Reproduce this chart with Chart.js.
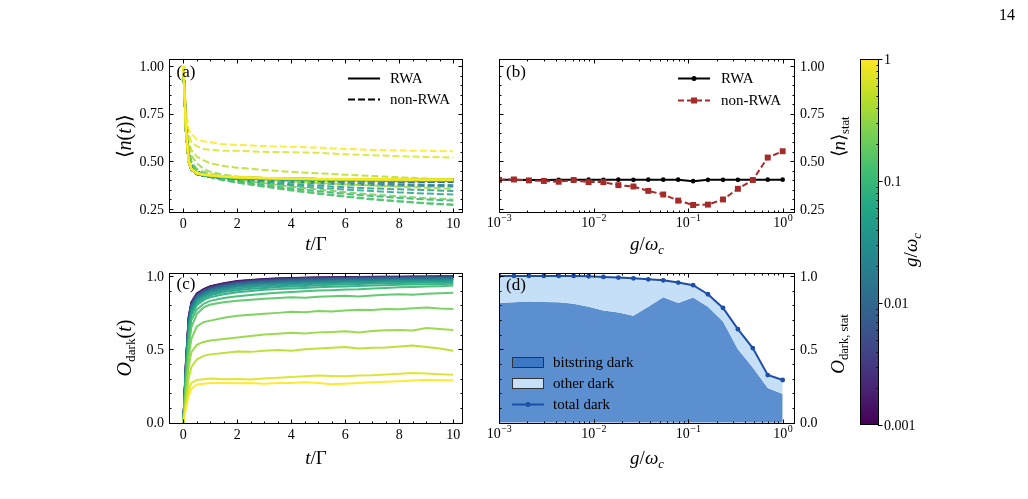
<!DOCTYPE html>
<html>
<head>
<meta charset="utf-8">
<script src="https://cdn.jsdelivr.net/npm/chart.js@4.4.0/dist/chart.umd.min.js"></script>
<style>
body{margin:0;background:#fff;width:1028px;height:499px;overflow:hidden;position:relative;font-family:"Liberation Serif","Times New Roman",serif;color:#000;}
canvas{position:absolute;left:0;top:0;}
.t{position:absolute;transform:translate(-50%,-50%);white-space:nowrap;line-height:1;}
.r{transform:translate(-50%,-50%) rotate(-90deg);}
.ax{font-size:19px;}
.big{font-size:20px;}
.pl{font-size:17px;}
.lg{position:absolute;font-size:15px;line-height:1;white-space:nowrap;transform:translateY(-50%);}
sub{font-size:0.66em;vertical-align:-0.32em;line-height:0;}
#ov{position:absolute;left:0;top:0;}
</style>
</head>
<body>
<canvas id="ca" width="1028" height="499"></canvas>
<canvas id="cb" width="1028" height="499"></canvas>
<canvas id="cc" width="1028" height="499"></canvas>
<canvas id="cd" width="1028" height="499"></canvas>
<canvas id="cbar" width="1028" height="499"></canvas>

<svg id="ov" width="1028" height="499">
  <line x1="348" y1="78.5" x2="380" y2="78.5" stroke="#000" stroke-width="2"/>
  <line x1="348" y1="99.5" x2="380" y2="99.5" stroke="#000" stroke-width="2" stroke-dasharray="7 3"/>
  <line x1="678" y1="78.5" x2="710" y2="78.5" stroke="#000" stroke-width="2"/>
  <circle cx="694" cy="78.5" r="2.5" fill="#000"/>
  <line x1="678" y1="100.5" x2="710" y2="100.5" stroke="#a52a2a" stroke-width="2" stroke-dasharray="6 3"/>
  <rect x="691" y="97.5" width="6" height="6" fill="#a52a2a"/>
  <rect x="512.5" y="357.5" width="31" height="10" fill="#3d78c5" stroke="#333"/>
  <rect x="512.5" y="378.5" width="31" height="10" fill="#c6e0f7" stroke="#333"/>
  <line x1="512" y1="404.5" x2="544" y2="404.5" stroke="#1e4ea5" stroke-width="2"/>
  <circle cx="528" cy="404.5" r="2.5" fill="#1e4ea5"/>
</svg>

<div class="lg" style="left:390px;top:78px">RWA</div>
<div class="lg" style="left:390px;top:99px">non-RWA</div>
<div class="lg" style="left:721px;top:78px">RWA</div>
<div class="lg" style="left:721px;top:100px">non-RWA</div>
<div class="lg" style="left:553px;top:362px">bitstring dark</div>
<div class="lg" style="left:553px;top:383px">other dark</div>
<div class="lg" style="left:553px;top:404px">total dark</div>

<div class="t pl" style="left:186px;top:71px">(a)</div>
<div class="t pl" style="left:516px;top:71px">(b)</div>
<div class="t pl" style="left:186px;top:283px">(c)</div>
<div class="t pl" style="left:516px;top:284px">(d)</div>

<div class="t big r" style="left:124px;top:136px">⟨<i>n</i>(<i>t</i>)⟩</div>
<div class="t ax" style="left:316px;top:243px"><i>t</i>/Γ</div>
<div class="t ax" style="left:647px;top:243px"><i>g</i>/<i>ω<sub>c</sub></i></div>
<div class="t ax r" style="left:838px;top:137px">⟨<i>n</i>⟩<sub>stat</sub></div>
<div class="t big r" style="left:124px;top:348px"><i>O</i><sub>dark</sub>(<i>t</i>)</div>
<div class="t ax" style="left:316px;top:457px"><i>t</i>/Γ</div>
<div class="t ax" style="left:647px;top:457px"><i>g</i>/<i>ω<sub>c</sub></i></div>
<div class="t ax r" style="left:837px;top:344px"><i>O</i><sub>dark, stat</sub></div>
<div class="t ax r" style="left:910px;top:250px"><i>g</i>/<i>ω<sub>c</sub></i></div>
<div class="t" style="left:1007px;top:15px;font-size:16px">14</div>

<script>
// coupling strengths g/omega_c (one curve / point each)
const gVals = [0.001,0.00144,0.00207,0.00298,0.00428,0.00616,0.00886,0.0127,0.0183,0.0264,
               0.0379,0.0546,0.0785,0.113,0.162,0.234,0.336,0.483,0.695,1.0];

// tick labels
const tTicks = [0,2,4,6,8,10];
const nTicks = [0.25,0.50,0.75,1.00];
const oTicks = [0.0,0.5,1.0];
const gTicks = [0.001,0.01,0.1,1];
const cbarLabels = ['0.001','0.01','0.1','1'];

// (a) <n(t)>, time grid and one row per g
const tA = [0,0.05,0.1,0.2,0.3,0.5,0.75,1,1.5,2,3,4,5,6,7,8,9,10];
const nRwa = [
  [1,0.84,0.66,0.50,0.458,0.434,0.426,0.421,0.415,0.412,0.409,0.407,0.406,0.405,0.404,0.404,0.403,0.403],
  [1,0.84,0.66,0.50,0.458,0.434,0.426,0.421,0.415,0.412,0.409,0.407,0.406,0.405,0.404,0.404,0.403,0.403],
  [1,0.84,0.66,0.50,0.458,0.434,0.426,0.421,0.415,0.412,0.409,0.407,0.406,0.405,0.404,0.403,0.403,0.402],
  [1,0.84,0.66,0.50,0.458,0.434,0.426,0.421,0.415,0.412,0.409,0.407,0.406,0.405,0.404,0.403,0.403,0.402],
  [1,0.84,0.66,0.50,0.458,0.434,0.426,0.421,0.415,0.412,0.409,0.407,0.406,0.405,0.404,0.404,0.403,0.403],
  [1,0.84,0.66,0.50,0.458,0.434,0.426,0.421,0.415,0.412,0.409,0.407,0.406,0.405,0.405,0.404,0.404,0.404],
  [1,0.84,0.66,0.50,0.458,0.434,0.426,0.421,0.415,0.412,0.409,0.407,0.406,0.405,0.405,0.404,0.404,0.404],
  [1,0.84,0.66,0.50,0.458,0.434,0.426,0.421,0.415,0.412,0.409,0.407,0.406,0.405,0.404,0.404,0.403,0.403],
  [1,0.84,0.66,0.50,0.458,0.434,0.426,0.421,0.415,0.412,0.409,0.407,0.406,0.405,0.405,0.404,0.404,0.404],
  [1,0.84,0.66,0.50,0.458,0.434,0.426,0.421,0.415,0.412,0.409,0.407,0.406,0.405,0.404,0.404,0.403,0.403],
  [1,0.84,0.66,0.50,0.458,0.434,0.426,0.421,0.415,0.412,0.409,0.407,0.406,0.405,0.405,0.404,0.404,0.404],
  [1,0.84,0.66,0.50,0.458,0.434,0.426,0.421,0.415,0.412,0.409,0.407,0.406,0.405,0.405,0.404,0.404,0.404],
  [1,0.84,0.66,0.50,0.458,0.434,0.426,0.421,0.415,0.412,0.409,0.407,0.406,0.405,0.405,0.404,0.404,0.404],
  [1,0.84,0.66,0.50,0.458,0.434,0.426,0.421,0.415,0.411,0.407,0.404,0.402,0.400,0.399,0.398,0.397,0.397],
  [1,0.84,0.66,0.50,0.460,0.437,0.430,0.426,0.420,0.416,0.412,0.409,0.407,0.406,0.405,0.404,0.404,0.403],
  [1,0.84,0.66,0.50,0.460,0.437,0.430,0.426,0.420,0.416,0.412,0.409,0.407,0.406,0.405,0.404,0.404,0.403],
  [1,0.84,0.66,0.50,0.460,0.437,0.430,0.426,0.420,0.416,0.412,0.409,0.407,0.406,0.405,0.404,0.404,0.403],
  [1,0.84,0.66,0.50,0.460,0.437,0.430,0.426,0.420,0.416,0.412,0.409,0.407,0.406,0.405,0.404,0.404,0.403],
  [1,0.84,0.66,0.50,0.460,0.437,0.430,0.426,0.420,0.416,0.412,0.409,0.407,0.406,0.405,0.405,0.404,0.404],
  [1,0.84,0.66,0.50,0.462,0.438,0.431,0.427,0.421,0.417,0.413,0.410,0.408,0.407,0.406,0.405,0.404,0.404]
];
const nNonRwa = [
  [1,0.86,0.70,0.54,0.48,0.445,0.433,0.427,0.420,0.416,0.412,0.409,0.407,0.405,0.404,0.404,0.403,0.403],
  [1,0.86,0.70,0.54,0.48,0.445,0.433,0.427,0.420,0.416,0.412,0.410,0.408,0.407,0.406,0.406,0.405,0.405],
  [1,0.86,0.70,0.54,0.48,0.445,0.433,0.426,0.419,0.415,0.410,0.407,0.405,0.403,0.402,0.401,0.400,0.400],
  [1,0.86,0.70,0.54,0.48,0.445,0.432,0.425,0.418,0.414,0.409,0.405,0.403,0.401,0.400,0.399,0.398,0.397],
  [1,0.86,0.70,0.54,0.48,0.445,0.432,0.425,0.417,0.413,0.407,0.403,0.400,0.398,0.396,0.395,0.394,0.393],
  [1,0.86,0.70,0.54,0.48,0.445,0.433,0.426,0.419,0.415,0.410,0.407,0.405,0.404,0.403,0.403,0.402,0.402],
  [1,0.86,0.70,0.54,0.48,0.444,0.431,0.424,0.416,0.411,0.405,0.401,0.398,0.396,0.394,0.393,0.392,0.391],
  [1,0.86,0.70,0.54,0.48,0.444,0.431,0.424,0.416,0.411,0.405,0.401,0.398,0.396,0.394,0.393,0.392,0.391],
  [1,0.86,0.70,0.54,0.48,0.444,0.431,0.423,0.415,0.410,0.402,0.396,0.390,0.386,0.383,0.380,0.377,0.375],
  [1,0.86,0.70,0.54,0.48,0.444,0.430,0.422,0.413,0.407,0.398,0.390,0.384,0.379,0.375,0.372,0.370,0.368],
  [1,0.86,0.70,0.54,0.48,0.444,0.428,0.420,0.410,0.403,0.390,0.380,0.372,0.364,0.358,0.353,0.349,0.345],
  [1,0.86,0.70,0.54,0.48,0.444,0.428,0.420,0.408,0.400,0.385,0.372,0.361,0.352,0.344,0.337,0.331,0.326],
  [1,0.86,0.70,0.545,0.485,0.446,0.427,0.418,0.404,0.393,0.375,0.358,0.343,0.330,0.318,0.308,0.300,0.294],
  [1,0.86,0.71,0.55,0.49,0.448,0.428,0.416,0.400,0.388,0.367,0.347,0.330,0.314,0.300,0.289,0.279,0.271],
  [1,0.86,0.71,0.555,0.495,0.452,0.432,0.420,0.403,0.390,0.370,0.350,0.333,0.317,0.303,0.291,0.281,0.273],
  [1,0.87,0.72,0.56,0.50,0.460,0.445,0.435,0.418,0.405,0.385,0.367,0.352,0.338,0.326,0.316,0.307,0.300],
  [1,0.87,0.72,0.57,0.53,0.490,0.460,0.445,0.430,0.420,0.405,0.395,0.387,0.380,0.373,0.367,0.361,0.356],
  [1,0.87,0.72,0.60,0.56,0.525,0.505,0.490,0.475,0.467,0.455,0.445,0.437,0.430,0.423,0.416,0.410,0.402],
  [1,0.87,0.74,0.64,0.60,0.580,0.565,0.560,0.555,0.555,0.550,0.548,0.545,0.537,0.532,0.527,0.523,0.520],
  [1,0.88,0.76,0.67,0.645,0.615,0.605,0.600,0.590,0.586,0.580,0.576,0.572,0.565,0.560,0.557,0.555,0.553]
];

// (b) stationary <n>
const bRwa    = [0.403,0.403,0.402,0.402,0.403,0.404,0.404,0.403,0.404,0.403,0.404,0.404,0.404,0.396,0.403,0.403,0.403,0.403,0.404,0.404];
const bNonRwa = [0.403,0.405,0.400,0.397,0.393,0.402,0.391,0.391,0.375,0.368,0.345,0.326,0.294,0.271,0.273,0.300,0.356,0.402,0.520,0.553];

// (c) O_dark(t), time grid and one row per g
const tC = [0,0.1,0.2,0.3,0.5,0.75,1,1.5,2,2.5,3,3.5,4,4.5,5,5.5,6,6.5,7,7.5,8,8.5,9,9.5,10];
const oDark = [
  [0,0.42,0.72,0.82,0.88,0.91,0.93,0.95,0.965,0.973,0.979,0.983,0.986,0.988,0.99,0.991,0.992,0.993,0.994,0.995,0.995,0.996,0.996,0.997,0.997],
  [0,0.42,0.72,0.82,0.878,0.908,0.928,0.948,0.963,0.971,0.977,0.982,0.985,0.987,0.989,0.99,0.991,0.992,0.993,0.994,0.994,0.995,0.995,0.996,0.996],
  [0,0.41,0.71,0.815,0.875,0.905,0.925,0.946,0.961,0.969,0.975,0.98,0.983,0.986,0.988,0.989,0.99,0.991,0.992,0.993,0.993,0.994,0.994,0.995,0.995],
  [0,0.41,0.71,0.81,0.872,0.902,0.922,0.943,0.958,0.966,0.972,0.977,0.981,0.984,0.986,0.987,0.988,0.989,0.99,0.991,0.992,0.992,0.993,0.993,0.994],
  [0,0.40,0.70,0.805,0.868,0.898,0.918,0.94,0.955,0.963,0.969,0.974,0.978,0.981,0.983,0.985,0.986,0.987,0.988,0.989,0.99,0.99,0.991,0.991,0.992],
  [0,0.40,0.70,0.80,0.864,0.894,0.914,0.936,0.951,0.96,0.966,0.971,0.975,0.978,0.98,0.982,0.984,0.985,0.986,0.987,0.988,0.988,0.989,0.989,0.99],
  [0,0.39,0.69,0.795,0.86,0.89,0.91,0.932,0.947,0.956,0.962,0.967,0.971,0.974,0.977,0.979,0.981,0.982,0.983,0.984,0.985,0.986,0.987,0.987,0.988],
  [0,0.39,0.68,0.79,0.855,0.885,0.905,0.927,0.942,0.951,0.957,0.962,0.966,0.969,0.972,0.974,0.976,0.977,0.979,0.98,0.981,0.982,0.983,0.984,0.985],
  [0,0.38,0.67,0.78,0.848,0.878,0.898,0.92,0.935,0.944,0.95,0.955,0.959,0.962,0.965,0.967,0.969,0.971,0.973,0.975,0.976,0.977,0.978,0.979,0.98],
  [0,0.37,0.66,0.77,0.84,0.87,0.89,0.912,0.926,0.935,0.941,0.946,0.95,0.954,0.957,0.96,0.962,0.964,0.966,0.968,0.97,0.971,0.972,0.973,0.975],
  [0,0.36,0.64,0.76,0.83,0.86,0.88,0.902,0.915,0.924,0.93,0.936,0.94,0.944,0.948,0.951,0.953,0.956,0.958,0.96,0.962,0.963,0.965,0.966,0.968],
  [0,0.35,0.62,0.745,0.815,0.848,0.868,0.89,0.903,0.912,0.918,0.924,0.928,0.932,0.936,0.94,0.942,0.945,0.948,0.95,0.952,0.954,0.956,0.957,0.959],
  [0,0.33,0.60,0.73,0.80,0.835,0.855,0.875,0.888,0.898,0.905,0.91,0.915,0.918,0.922,0.926,0.928,0.932,0.934,0.937,0.94,0.941,0.943,0.945,0.947],
  [0,0.31,0.56,0.70,0.77,0.81,0.83,0.85,0.862,0.87,0.878,0.885,0.89,0.895,0.9,0.903,0.908,0.91,0.915,0.918,0.922,0.924,0.928,0.93,0.934],
  [0,0.28,0.52,0.65,0.74,0.785,0.805,0.82,0.83,0.838,0.845,0.85,0.855,0.852,0.858,0.862,0.865,0.86,0.867,0.872,0.875,0.872,0.878,0.882,0.886],
  [0,0.24,0.45,0.57,0.655,0.685,0.695,0.715,0.728,0.735,0.742,0.748,0.755,0.752,0.76,0.758,0.765,0.77,0.768,0.775,0.772,0.78,0.785,0.778,0.775],
  [0,0.20,0.38,0.48,0.53,0.55,0.56,0.57,0.58,0.59,0.60,0.605,0.612,0.608,0.615,0.618,0.622,0.615,0.625,0.63,0.632,0.628,0.645,0.638,0.632],
  [0,0.15,0.30,0.38,0.43,0.455,0.465,0.475,0.485,0.482,0.49,0.495,0.49,0.50,0.505,0.51,0.515,0.505,0.51,0.512,0.518,0.525,0.515,0.505,0.49],
  [0,0.12,0.22,0.27,0.29,0.295,0.30,0.295,0.297,0.293,0.30,0.305,0.31,0.315,0.32,0.318,0.316,0.32,0.322,0.328,0.332,0.338,0.334,0.33,0.326],
  [0,0.10,0.18,0.23,0.26,0.265,0.27,0.27,0.268,0.27,0.265,0.27,0.27,0.275,0.27,0.262,0.265,0.27,0.275,0.278,0.282,0.287,0.292,0.288,0.288]
];

// (d) stationary dark-state occupation
const dBitstring = [0.815,0.82,0.825,0.822,0.82,0.81,0.79,0.765,0.75,0.728,0.79,0.855,0.815,0.853,0.79,0.69,0.50,0.375,0.235,0.195];
const dTotal     = [1.0,1.0,1.0,1.0,1.0,1.0,0.998,0.993,0.989,0.984,0.977,0.97,0.955,0.937,0.875,0.782,0.637,0.508,0.324,0.29];

const W = 1028, H = 499;
const FONT = '"Liberation Serif", "Times New Roman", serif';
const VIRIDIS = ['#440154','#482475','#414487','#355f8d','#2a788e','#21918c','#22a884','#44bf70','#7ad151','#bddf26','#fde725'];

function viridis(f, alpha) {
  const s = f * (VIRIDIS.length - 1);
  const k = Math.min(Math.floor(s), VIRIDIS.length - 2);
  const u = s - k;
  const c0 = VIRIDIS[k], c1 = VIRIDIS[k + 1];
  const ch = (c, p) => parseInt(c.substr(p, 2), 16);
  const rgb = [1, 3, 5].map(p => Math.round(ch(c0, p) + (ch(c1, p) - ch(c0, p)) * u));
  return 'rgba(' + rgb.join(',') + ',' + alpha + ')';
}

function pts(xs, ys) { return xs.map((x, k) => ({x: x, y: ys[k]})); }

function range(a, b, step) {
  const out = [];
  for (let v = a; v <= b + 1e-9; v += step) out.push(+v.toFixed(6));
  return out;
}
function logMinor() {
  const out = [];
  for (let d = -3; d < 0; d++) for (let m = 2; m <= 9; m++) out.push(m * Math.pow(10, d));
  return out;
}

function drawPow(ctx, x, y, e) {
  const base = '10', ex = e === 0 ? '0' : '\u2212' + Math.abs(e);
  ctx.font = '14px ' + FONT;
  const wb = ctx.measureText(base).width;
  ctx.font = '10px ' + FONT;
  const we = ctx.measureText(ex).width;
  const x0 = x - (wb + we) / 2;
  ctx.textAlign = 'left';
  ctx.textBaseline = 'alphabetic';
  ctx.font = '14px ' + FONT;
  ctx.fillText(base, x0, y);
  ctx.font = '10px ' + FONT;
  ctx.fillText(ex, x0 + wb + 0.5, y - 6);
}

// frame, inward ticks on all sides, tick labels
const axisDeco = {
  id: 'axisDeco',
  afterDatasetsDraw(chart, args, o) {
    const ctx = chart.ctx, a = chart.chartArea;
    const sx = chart.scales.x, sy = chart.scales.y;
    ctx.save();
    ctx.strokeStyle = '#000';
    ctx.lineWidth = 1;
    ctx.beginPath();
    const vx = (v, len) => {
      const p = Math.round(sx.getPixelForValue(v)) + 0.5;
      ctx.moveTo(p, a.bottom); ctx.lineTo(p, a.bottom - len);
      ctx.moveTo(p, a.top); ctx.lineTo(p, a.top + len);
    };
    const vy = (v, len) => {
      const p = Math.round(sy.getPixelForValue(v)) + 0.5;
      ctx.moveTo(a.left, p); ctx.lineTo(a.left + len, p);
      ctx.moveTo(a.right, p); ctx.lineTo(a.right - len, p);
    };
    o.xMinor.forEach(v => vx(v, 2.5));
    o.xMajor.forEach(v => vx(v, 4.5));
    o.yMinor.forEach(v => vy(v, 2.5));
    o.yMajor.forEach(v => vy(v, 4.5));
    ctx.stroke();
    ctx.strokeRect(a.left + 0.5, a.top + 0.5, a.right - a.left - 1, a.bottom - a.top - 1);

    ctx.fillStyle = '#000';
    o.xMajor.forEach(v => {
      const p = sx.getPixelForValue(v);
      if (o.xLog) {
        drawPow(ctx, p, a.bottom + 14, Math.round(Math.log10(v)));
      } else {
        ctx.font = '14px ' + FONT;
        ctx.textAlign = 'center';
        ctx.textBaseline = 'alphabetic';
        ctx.fillText(String(v), p, a.bottom + 15);
      }
    });
    ctx.font = '14px ' + FONT;
    ctx.textBaseline = 'middle';
    ctx.textAlign = o.yRight ? 'left' : 'right';
    o.yMajor.forEach(v => {
      ctx.fillText(v.toFixed(o.yDec), o.yRight ? a.right + 5 : a.left - 5, sy.getPixelForValue(v) + 1);
    });
    ctx.restore();
  }
};

function baseOptions(box, xs, ys, deco) {
  return {
    responsive: false,
    animation: false,
    events: [],
    devicePixelRatio: 1,
    layout: {padding: {left: box[0], top: box[1], right: W - box[2], bottom: H - box[3]}},
    plugins: {legend: {display: false}, tooltip: {enabled: false}, axisDeco: deco},
    scales: {
      x: Object.assign({display: false}, xs),
      y: Object.assign({display: false}, ys)
    }
  };
}

// ---- (a)
const aSets = [];
nNonRwa.forEach((row, i) => {
  aSets.push({
    data: pts(tA, row), borderColor: viridis(i / 19, 0.85), borderWidth: 2,
    borderDash: [7, 3], pointRadius: 0, fill: false, order: 100 + (19 - i)
  });
});
nRwa.forEach((row, i) => {
  aSets.push({
    data: pts(tA, row), borderColor: viridis(i / 19, 1), borderWidth: 2.2,
    pointRadius: 0, fill: false, order: 19 - i
  });
});
new Chart(document.getElementById('ca'), {
  type: 'line',
  data: {datasets: aSets},
  options: baseOptions([169, 59, 463, 213],
    {type: 'linear', min: -0.53, max: 10.36},
    {type: 'linear', min: 0.229, max: 1.037},
    {xMajor: tTicks, xMinor: range(0.5, 10, 0.5).filter(v => v % 2 !== 0),
     yMajor: nTicks, yMinor: range(0.25, 1.0, 0.05).filter(v => !nTicks.includes(v)),
     yDec: 2, yRight: false, xLog: false}),
  plugins: [axisDeco]
});

// ---- (b)
new Chart(document.getElementById('cb'), {
  type: 'line',
  data: {datasets: [
    {data: pts(gVals, bNonRwa), borderColor: '#a52a2a', backgroundColor: '#a52a2a', borderWidth: 2,
     borderDash: [6, 3], pointStyle: 'rect', pointRadius: 4.2, pointBorderWidth: 0, order: 1},
    {data: pts(gVals, bRwa), borderColor: '#000', backgroundColor: '#000', borderWidth: 2,
     pointStyle: 'circle', pointRadius: 2.3, pointBorderWidth: 0, order: 2}
  ]},
  options: baseOptions([499, 59, 795, 213],
    {type: 'logarithmic', min: 0.001, max: 1.35},
    {type: 'linear', min: 0.229, max: 1.037},
    {xMajor: gTicks, xMinor: logMinor(), xLog: true,
     yMajor: nTicks, yMinor: range(0.25, 1.0, 0.05).filter(v => !nTicks.includes(v)),
     yDec: 2, yRight: true}),
  plugins: [axisDeco]
});

// ---- (c)
new Chart(document.getElementById('cc'), {
  type: 'line',
  data: {datasets: oDark.map((row, i) => ({
    data: pts(tC, row), borderColor: viridis(i / 19, 0.92), borderWidth: 2,
    pointRadius: 0, fill: false, order: 19 - i
  }))},
  options: baseOptions([169, 273, 463, 424],
    {type: 'linear', min: -0.53, max: 10.36},
    {type: 'linear', min: -0.01, max: 1.02},
    {xMajor: tTicks, xMinor: range(0.5, 10, 0.5).filter(v => v % 2 !== 0),
     yMajor: oTicks, yMinor: range(0.1, 0.9, 0.1).filter(v => v !== 0.5),
     yDec: 1, yRight: false, xLog: false}),
  plugins: [axisDeco]
});

// ---- (d)
new Chart(document.getElementById('cd'), {
  type: 'line',
  data: {datasets: [
    {data: pts(gVals, dBitstring), fill: 'origin', backgroundColor: 'rgb(91,143,208)',
     borderWidth: 0, pointRadius: 0, order: 3},
    {data: pts(gVals, dTotal), fill: '-1', backgroundColor: 'rgb(197,223,246)',
     borderWidth: 0, pointRadius: 0, order: 2},
    {data: pts(gVals, dTotal), fill: false, borderColor: '#1e4ea5', backgroundColor: '#1e4ea5',
     borderWidth: 2, pointRadius: 2.4, pointBorderWidth: 0, order: 1}
  ]},
  options: baseOptions([499, 273, 795, 424],
    {type: 'logarithmic', min: 0.001, max: 1.35},
    {type: 'linear', min: -0.01, max: 1.02},
    {xMajor: gTicks, xMinor: logMinor(), xLog: true,
     yMajor: oTicks, yMinor: range(0.1, 0.9, 0.1).filter(v => v !== 0.5),
     yDec: 1, yRight: true}),
  plugins: [axisDeco]
});

// ---- colour bar
const cbarDeco = {
  id: 'cbarDeco',
  afterDraw(chart) {
    const ctx = chart.ctx, a = chart.chartArea, sy = chart.scales.y;
    ctx.save();
    const grad = ctx.createLinearGradient(0, a.bottom, 0, a.top);
    VIRIDIS.forEach((c, k) => grad.addColorStop(k / (VIRIDIS.length - 1), c));
    ctx.fillStyle = grad;
    ctx.fillRect(a.left, a.top, a.right - a.left, a.bottom - a.top);
    ctx.strokeStyle = '#000';
    ctx.lineWidth = 1;
    ctx.strokeRect(a.left + 0.5, a.top + 0.5, a.right - a.left - 1, a.bottom - a.top - 1);
    ctx.beginPath();
    logMinor().forEach(v => {
      const p = Math.round(sy.getPixelForValue(v)) + 0.5;
      ctx.moveTo(a.right - 2.5, p); ctx.lineTo(a.right, p);
    });
    gTicks.forEach(v => {
      const p = Math.round(sy.getPixelForValue(v)) + 0.5;
      ctx.moveTo(a.right - 1, p); ctx.lineTo(a.right + 3.5, p);
    });
    ctx.stroke();
    ctx.fillStyle = '#000';
    ctx.font = '14px ' + FONT;
    ctx.textAlign = 'left';
    ctx.textBaseline = 'middle';
    gTicks.forEach((v, k) => ctx.fillText(cbarLabels[k], a.right + 5, sy.getPixelForValue(v) + 1));
    ctx.restore();
  }
};
new Chart(document.getElementById('cbar'), {
  type: 'scatter',
  data: {datasets: []},
  options: baseOptions([860, 59, 879, 425],
    {type: 'linear', min: 0, max: 1},
    {type: 'logarithmic', min: 0.001, max: 1}, {}),
  plugins: [cbarDeco]
});
</script>
</body>
</html>
